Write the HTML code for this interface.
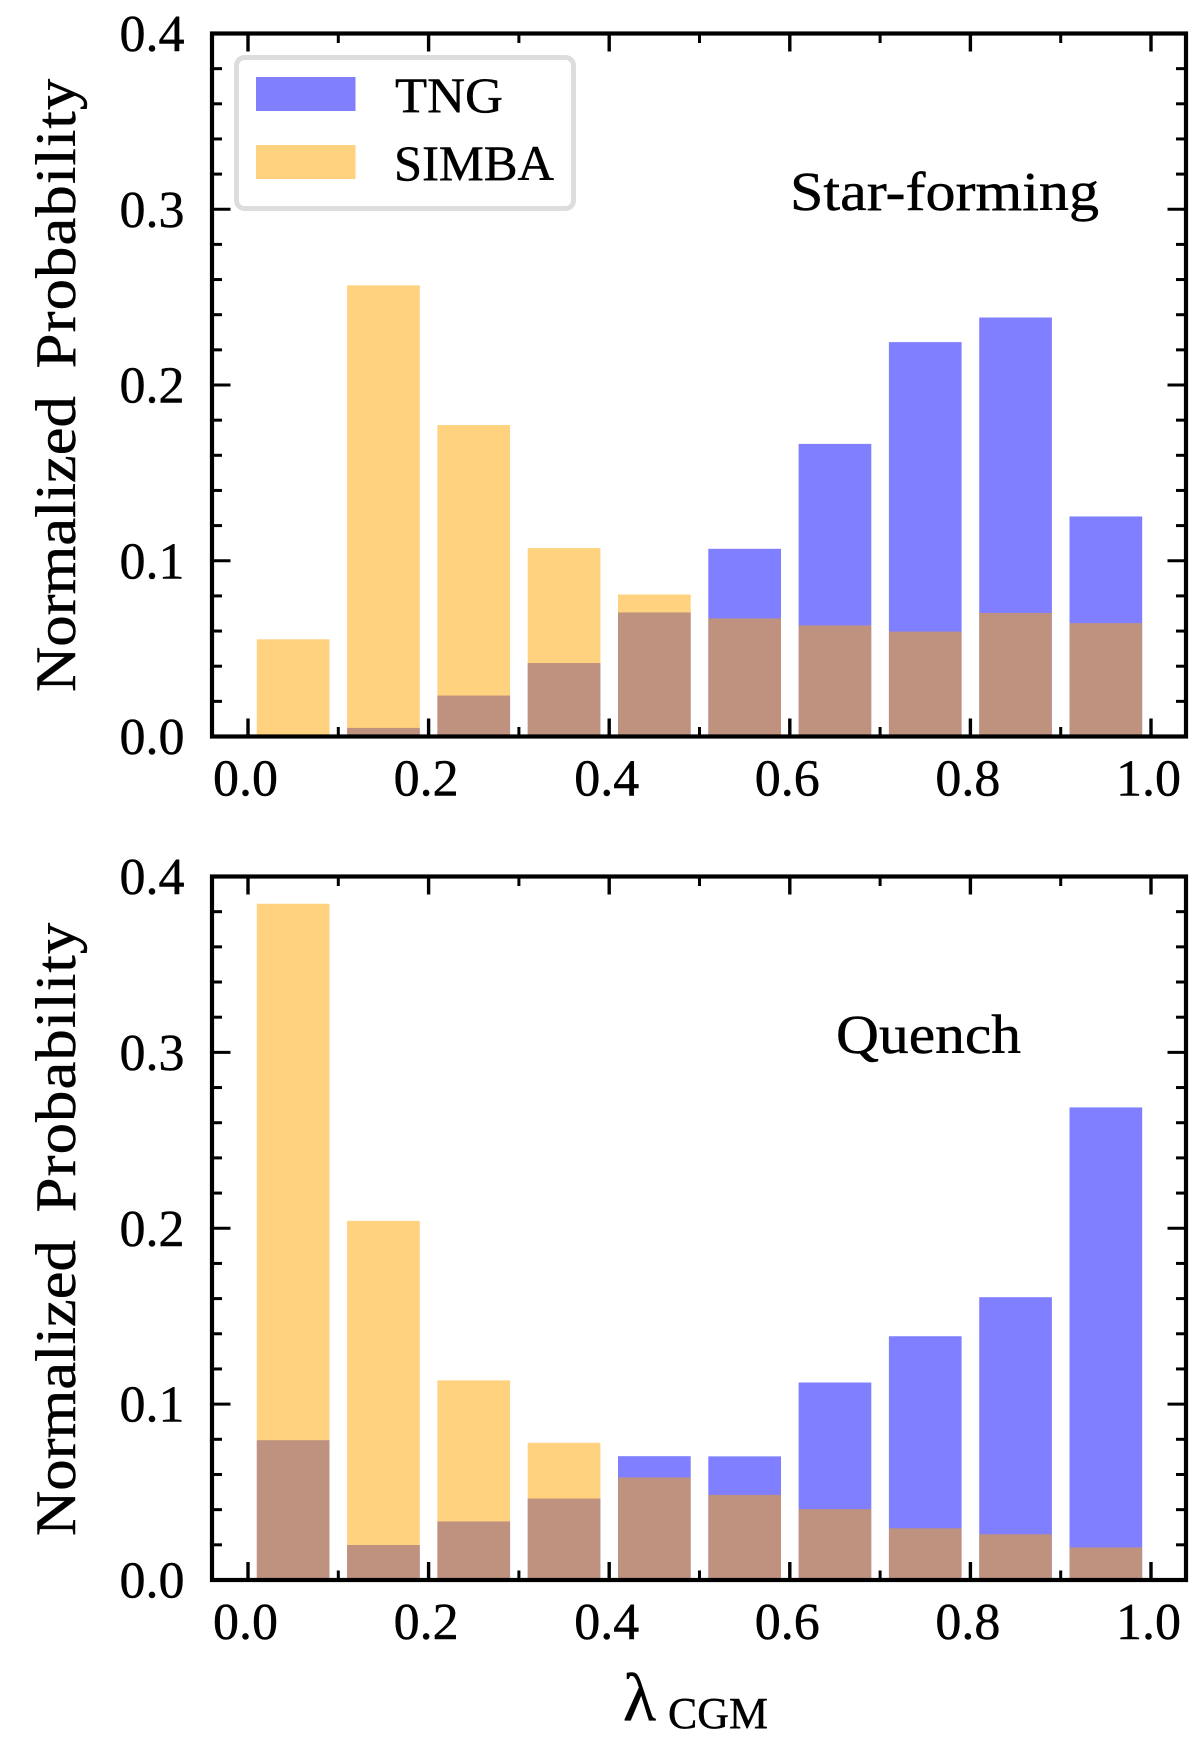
<!DOCTYPE html>
<html lang="en">
<head>
<meta charset="utf-8">
<title>Normalized Probability of lambda CGM</title>
<style>
  html, body { margin: 0; padding: 0; background: #fff; }
  svg { display: block; }
  text { font-family: "Liberation Serif", "DejaVu Serif", serif; fill: #000; stroke: #000; stroke-width: 0.45px; }
</style>
</head>
<body>
<svg id="chart" xmlns="http://www.w3.org/2000/svg" width="1200" height="1746" viewBox="0 0 1200 1746">
  <rect x="0" y="0" width="1200" height="1746" fill="#fff"/>
  <g id="panels"></g>

  <g>
    <rect x="236.5" y="57.5" width="337" height="151" rx="8" ry="8" fill="#fff" stroke="#dcdddc" stroke-width="5"/>
    <rect x="256" y="77" width="99.5" height="34" fill="#8080ff"/>
    <text x="395" y="112" font-size="50" textLength="108" lengthAdjust="spacingAndGlyphs">TNG</text>
    <rect x="256" y="145" width="99.5" height="34" fill="#ffd27f"/>
    <text x="394" y="180" font-size="50" textLength="160" lengthAdjust="spacingAndGlyphs">SIMBA</text>
  </g>

  <text x="790" y="210" font-size="55" textLength="309" lengthAdjust="spacingAndGlyphs">Star-forming</text>
  <text x="836" y="1053" font-size="55" textLength="185" lengthAdjust="spacingAndGlyphs">Quench</text>

  <text transform="translate(75,692) rotate(-90) scale(1.1,1)" font-size="57" word-spacing="11">Normalized <tspan letter-spacing="1">Probability</tspan></text>
  <text transform="translate(75,1536) rotate(-90) scale(1.1,1)" font-size="57" word-spacing="11">Normalized <tspan letter-spacing="1">Probability</tspan></text>

  <g>
    <text x="623" y="1720" font-size="68">λ</text>
    <text x="668" y="1728" font-size="44" textLength="100" lengthAdjust="spacingAndGlyphs">CGM</text>
  </g>
</svg>

<script>
const binCenters = [0.05, 0.15, 0.25, 0.35, 0.45, 0.55, 0.65, 0.75, 0.85, 0.95];
const tngStarForming = [0, 0.0049, 0.0233, 0.0418, 0.0706, 0.1068, 0.1665, 0.2244, 0.2384, 0.1252];
const simbaStarForming = [0.0553, 0.2567, 0.1772, 0.1072, 0.0808, 0.0672, 0.0632, 0.0597, 0.0703, 0.0645];
const tngQuench = [0.0795, 0.0199, 0.0333, 0.0463, 0.0704, 0.0703, 0.1123, 0.1386, 0.1608, 0.2687];
const simbaQuench = [0.3845, 0.2042, 0.1135, 0.078, 0.0583, 0.0484, 0.0403, 0.0294, 0.026, 0.0185];
const xTickLabels = ["0.0", "0.2", "0.4", "0.6", "0.8", "1.0"];
const yTickLabels = ["0.0", "0.1", "0.2", "0.3", "0.4"];
const xMinorTicks = [0.1, 0.3, 0.5, 0.7, 0.9];
const yMinorTicks = [0.02, 0.04, 0.06, 0.08, 0.12, 0.14, 0.16, 0.18, 0.22, 0.24, 0.26, 0.28, 0.32, 0.34, 0.36, 0.38];
const barWidth = 0.0805;

const NS = "http://www.w3.org/2000/svg";
const plotLeft = 212;
const plotRight = 1186;

function xScale(v) {
  return 248 + v * 903;
}

function yScaleFor(top, bottom) {
  return function (v) {
    return bottom - (v / 0.4) * (bottom - top);
  };
}

function el(tag, attrs, parent) {
  const node = document.createElementNS(NS, tag);
  for (const k in attrs) node.setAttribute(k, attrs[k]);
  parent.appendChild(node);
  return node;
}

function drawBars(group, values, color, seriesName, yScale) {
  values.forEach(function (v, i) {
    const x0 = xScale(binCenters[i] - barWidth / 2);
    const x1 = xScale(binCenters[i] + barWidth / 2);
    const r = el("rect", { x: x0, y: yScale(v), width: x1 - x0, height: yScale(0) - yScale(v), fill: color, "fill-opacity": 0.5 }, group);
    
    
  });
}

function tick(group, x1, y1, x2, y2, width, name) {
  const t = el("line", { x1: x1, y1: y1, x2: x2, y2: y2, stroke: "#000", "stroke-width": width }, group);
  
  
}

function drawPanel(name, top, bottom, tng, simba) {
  const root = document.getElementById("panels");
  const yScale = yScaleFor(top, bottom);
  const panel = el("g", {}, root);
  
  

  const bars = el("g", {}, panel);
  
  
  drawBars(bars, tng, "#0000ff", "tng", yScale);
  drawBars(bars, simba, "#ffa500", "simba", yScale);

  const ticks = el("g", {}, panel);
  
  

  xTickLabels.forEach(function (label) {
    const x = xScale(parseFloat(label));
    tick(ticks, x, bottom, x, bottom - 18, 3.4, 'x-major-tick');
    tick(ticks, x, top, x, top + 18, 3.4, 'x-major-tick-top');
    const t = el("text", { x: x - 2.5, y: bottom + 59, "font-size": 52, "text-anchor": "middle" }, panel);
    t.textContent = label;
    
    
  });
  xMinorTicks.forEach(function (v) {
    const x = xScale(v);
    tick(ticks, x, bottom, x, bottom - 9.5, 3, 'x-minor-tick');
    tick(ticks, x, top, x, top + 9.5, 3, 'x-minor-tick-top');
  });
  yTickLabels.forEach(function (label) {
    const y = yScale(parseFloat(label));
    tick(ticks, plotLeft, y, plotLeft + 18.5, y, 3, 'y-major-tick');
    tick(ticks, plotRight, y, plotRight - 18.5, y, 3, 'y-major-tick-right');
    const t = el("text", { x: 184.5, y: y + 17.5, "font-size": 52, "text-anchor": "end" }, panel);
    t.textContent = label;
    
    
  });
  yMinorTicks.forEach(function (v) {
    const y = yScale(v);
    tick(ticks, plotLeft, y, plotLeft + 10, y, 3, 'y-minor-tick');
    tick(ticks, plotRight, y, plotRight - 10, y, 3, 'y-minor-tick-right');
  });

  const frame = el("rect", { x: plotLeft, y: top, width: plotRight - plotLeft, height: bottom - top, fill: "none", stroke: "#000", "stroke-width": 4.2 }, panel);
  
  
}

drawPanel("star-forming", 33.5, 736.5, tngStarForming, simbaStarForming);
drawPanel("quench", 876.5, 1580, tngQuench, simbaQuench);
</script>
</body>
</html>
